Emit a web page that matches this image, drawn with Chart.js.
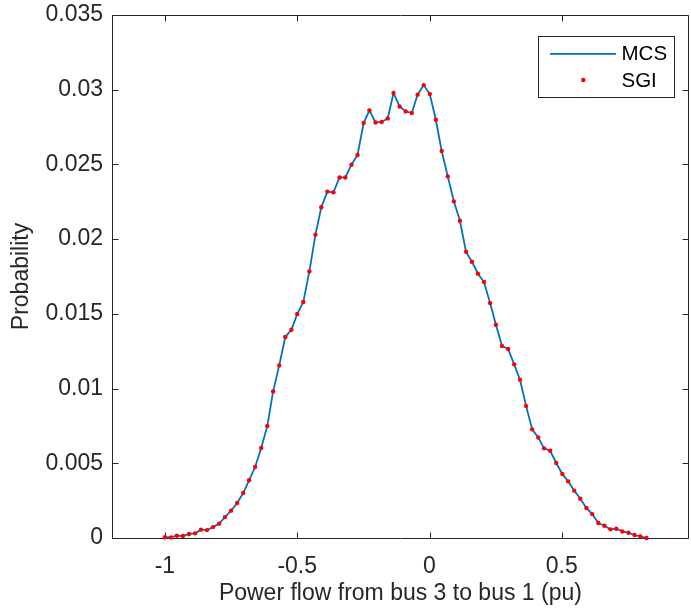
<!DOCTYPE html>
<html><head><meta charset="utf-8">
<script src="https://cdn.jsdelivr.net/npm/chart.js@4"></script>
<style>html,body{margin:0;padding:0;background:#fff;}canvas{display:block;}</style>
</head><body>
<canvas id="c" width="691" height="610"></canvas>
<script>
const powerFlow = [
 -1.000,-0.977,-0.955,-0.932,-0.909,-0.886,-0.864,-0.841,-0.818,-0.795,
 -0.773,-0.750,-0.727,-0.704,-0.682,-0.659,-0.636,-0.613,-0.591,-0.568,
 -0.545,-0.522,-0.500,-0.477,-0.454,-0.431,-0.409,-0.386,-0.363,-0.340,
 -0.318,-0.295,-0.272,-0.249,-0.227,-0.204,-0.181,-0.158,-0.136,-0.113,
 -0.090,-0.067,-0.045,-0.022,0.001,0.024,0.046,0.069,0.092,0.115,
 0.138,0.160,0.183,0.206,0.229,0.251,0.274,0.297,0.320,0.342,
 0.365,0.388,0.411,0.433,0.456,0.479,0.502,0.524,0.547,0.570,
 0.593,0.615,0.638,0.661,0.684,0.706,0.729,0.752,0.775,0.797,0.820];
const mcsProbability = [
 0.00005,0.00004,0.00015,0.00013,0.00027,0.00031,0.00056,0.00053,0.00073,0.00096,
 0.00140,0.00183,0.00234,0.00301,0.00386,0.00475,0.00602,0.00750,0.00981,0.01155,
 0.01345,0.01394,0.01499,0.01579,0.01784,0.02030,0.02213,0.02318,0.02313,0.02413,
 0.02413,0.02498,0.02563,0.02777,0.02862,0.02781,0.02784,0.02808,0.02978,0.02888,
 0.02855,0.02844,0.02967,0.03031,0.02971,0.02799,0.02590,0.02420,0.02253,0.02123,
 0.01916,0.01849,0.01769,0.01713,0.01572,0.01427,0.01285,0.01265,0.01162,0.01059,
 0.00884,0.00727,0.00673,0.00600,0.00584,0.00502,0.00428,0.00379,0.00317,0.00263,
 0.00201,0.00160,0.00100,0.00082,0.00058,0.00062,0.00044,0.00035,0.00020,0.00011,0.00000];
const sgiProbability = [
 0.00005,0.00004,0.00015,0.00013,0.00027,0.00031,0.00056,0.00053,0.00073,0.00096,
 0.00140,0.00183,0.00234,0.00301,0.00386,0.00475,0.00602,0.00750,0.00981,0.01155,
 0.01345,0.01394,0.01499,0.01579,0.01784,0.02030,0.02213,0.02318,0.02313,0.02413,
 0.02413,0.02498,0.02563,0.02777,0.02862,0.02781,0.02784,0.02808,0.02978,0.02888,
 0.02855,0.02844,0.02967,0.03031,0.02971,0.02799,0.02590,0.02420,0.02253,0.02123,
 0.01916,0.01849,0.01769,0.01713,0.01572,0.01427,0.01285,0.01265,0.01162,0.01059,
 0.00884,0.00727,0.00673,0.00600,0.00584,0.00502,0.00428,0.00379,0.00317,0.00263,
 0.00201,0.00160,0.00100,0.00082,0.00058,0.00062,0.00044,0.00035,0.00020,0.00011,0.00000];
const xTickValues = [-1, -0.5, 0, 0.5];
const yTickValues = [0, 0.005, 0.01, 0.015, 0.02, 0.025, 0.03, 0.035];
const xTickLabels = ['-1', '-0.5', '0', '0.5'];
const yTickLabels = ['0', '0.005', '0.01', '0.015', '0.02', '0.025', '0.03', '0.035'];
const seriesNames = ['MCS', 'SGI'];
const xAxisTitle = 'Power flow from bus 3 to bus 1 (pu)';
const yAxisTitle = 'Probability';

const FONT = '"Liberation Sans", Arial, Helvetica, sans-serif';
const AXC = '#262626';

const toPoints = (xs, ys) => xs.map((x, i) => ({x: x, y: ys[i]}));

const axesPlugin = {
  id: 'matlabAxes',
  beforeDatasetsDraw(chart) {
    const {ctx, chartArea: a, scales: {x, y}} = chart;
    ctx.save();
    ctx.strokeStyle = AXC;
    ctx.lineWidth = 1;
    ctx.beginPath();
    const L = Math.round(a.left) + 0.5, R = Math.round(a.right) - 0.5;
    const T = Math.round(a.top) + 0.5, B = Math.round(a.bottom) + 0.5;
    ctx.rect(L, T, R - L, B - T);
    const tl = 6;
    xTickValues.forEach(v => {
      const px = Math.round(x.getPixelForValue(v)) + 0.5;
      ctx.moveTo(px, B); ctx.lineTo(px, B - tl);
      ctx.moveTo(px, T); ctx.lineTo(px, T + tl);
    });
    yTickValues.forEach(v => {
      const py = Math.round(y.getPixelForValue(v)) + 0.5;
      ctx.moveTo(L, py); ctx.lineTo(L + tl, py);
      ctx.moveTo(R, py); ctx.lineTo(R - tl, py);
    });
    ctx.stroke();
    ctx.restore();
  },
  afterDraw(chart) {
    const {ctx, chartArea: a} = chart;
    const ds = chart.data.datasets;
    const w = 136, h = 61;
    const left = Math.round(a.right - 15.3 - w) + 0.5;
    const top = Math.round(a.top + 20.7) + 0.5;
    ctx.save();
    ctx.fillStyle = '#ffffff';
    ctx.fillRect(left, top, w, h);
    ctx.strokeStyle = AXC;
    ctx.lineWidth = 1;
    ctx.strokeRect(left, top, w, h);
    const rows = [top + 17.3, top + 43.5];
    ctx.strokeStyle = ds[0].borderColor;
    ctx.lineWidth = ds[0].borderWidth;
    ctx.beginPath();
    ctx.moveTo(left + 11.5, rows[0]); ctx.lineTo(left + 77.5, rows[0]);
    ctx.stroke();
    ctx.fillStyle = ds[1].backgroundColor;
    ctx.beginPath();
    ctx.arc(left + 44.8, rows[1], ds[1].pointRadius, 0, Math.PI * 2);
    ctx.fill();
    ctx.fillStyle = '#000000';
    ctx.font = '20.5px ' + FONT;
    ctx.textBaseline = 'middle';
    ctx.textAlign = 'left';
    ctx.fillText(ds[0].label, left + 83, rows[0] + 1);
    ctx.fillText(ds[1].label, left + 83, rows[1] + 1);
    ctx.restore();
  }
};

new Chart(document.getElementById('c'), {
  type: 'scatter',
  data: {
    datasets: [
      { label: seriesNames[0], data: toPoints(powerFlow, mcsProbability), showLine: true,
        borderColor: '#0072BD', backgroundColor: '#0072BD', borderWidth: 1.8,
        pointRadius: 0, tension: 0, order: 1, clip: false },
      { label: seriesNames[1], data: toPoints(powerFlow, sgiProbability), showLine: false,
        backgroundColor: '#FF0000', borderColor: '#FF0000', borderWidth: 0,
        pointRadius: 2.2, pointHoverRadius: 2.2, order: 0, clip: false }
    ]
  },
  options: {
    responsive: false,
    animation: false,
    events: [],
    layout: { padding: { top: 15, right: 1, left: 0, bottom: 0 } },
    plugins: { legend: { display: false }, tooltip: { enabled: false } },
    scales: {
      x: {
        type: 'linear', min: -1.2, max: 0.98,
        afterBuildTicks: s => { s.ticks = xTickValues.map(v => ({ value: v })); },
        afterFit: s => { s.height = 72; s.paddingLeft = 0; s.paddingRight = 0; },
        grid: { display: false, drawTicks: false },
        border: { display: false },
        ticks: { font: { size: 23, family: FONT }, color: AXC, padding: 15, maxRotation: 0,
                 callback: (v) => xTickLabels[xTickValues.indexOf(v)] },
        title: { display: true, text: xAxisTitle, font: { size: 23, family: FONT }, color: AXC,
                 padding: { top: 0, bottom: 3 } }
      },
      y: {
        type: 'linear', min: 0, max: 0.035,
        afterBuildTicks: s => { s.ticks = yTickValues.map(v => ({ value: v })); },
        afterFit: s => { s.width = 112; s.paddingTop = 0; s.paddingBottom = 0; },
        grid: { display: false, drawTicks: false },
        border: { display: false },
        ticks: { font: { size: 23, family: FONT }, color: AXC, padding: 9,
                 callback: (v) => yTickLabels[yTickValues.indexOf(v)] },
        title: { display: true, text: yAxisTitle, font: { size: 23, family: FONT }, color: AXC,
                 padding: { top: 8, bottom: 0 } }
      }
    }
  },
  plugins: [axesPlugin]
});
</script>
</body></html>
